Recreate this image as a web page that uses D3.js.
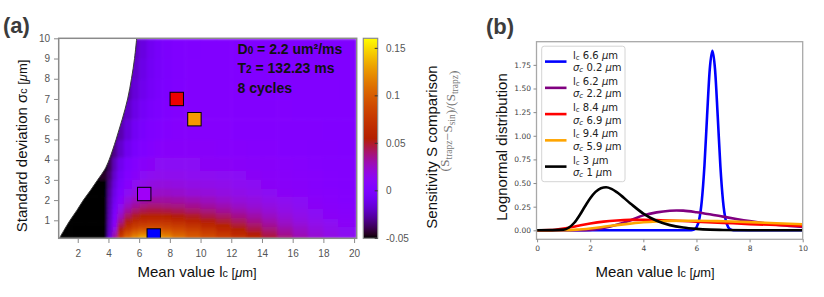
<!DOCTYPE html>
<html>
<head>
<meta charset="utf-8">
<script src="https://cdn.jsdelivr.net/npm/d3@7"></script>
<style>
  body { margin: 0; background: #fff; }
  svg { display: block; font-family: "Liberation Sans", Arial, sans-serif; }
</style>
</head>
<body>
<div id="chart"></div>
<script>
/* values */

// (a) heat map: columns = mean value lc, rows = standard deviation sigma
const lcGrid = [1.0, 2.0, 3.0, 3.75, 4.1, 4.4, 4.75, 5.25, 5.75, 6.25, 6.75, 7.25, 7.75, 8.5, 9.5, 10.5, 11.5, 12.5, 13.5, 14.5, 15.5, 16.5, 17.5, 18.5, 19.5];
const sigmaGrid = [0.2, 0.4, 0.6, 0.8, 1.0, 1.25, 1.5, 1.75, 2.0, 2.4, 2.8, 3.25, 3.75, 4.5, 5.5, 6.5, 7.5, 8.5, 9.5];
const sensRows = [
  [-0.06,-0.06,-0.06,-0.06,-0.015,0.034,0.078,0.104,0.12,0.131,0.133,0.128,0.121,0.11,0.099,0.09,0.081,0.071,0.059,0.048,0.038,0.03,0.023,0.018,0.014],
  [-0.06,-0.06,-0.06,-0.06,-0.017,0.026,0.066,0.091,0.105,0.113,0.115,0.112,0.107,0.099,0.091,0.082,0.073,0.063,0.053,0.043,0.034,0.027,0.021,0.017,0.013],
  [-0.06,-0.06,-0.06,-0.06,-0.019,0.017,0.053,0.075,0.088,0.095,0.097,0.096,0.093,0.087,0.08,0.072,0.064,0.055,0.046,0.038,0.031,0.025,0.019,0.015,0.012],
  [-0.06,-0.06,-0.06,-0.06,-0.02,0.01,0.043,0.063,0.074,0.08,0.082,0.082,0.08,0.076,0.07,0.063,0.056,0.048,0.041,0.034,0.027,0.022,0.017,0.014,0.011],
  [-0.06,-0.06,-0.06,-0.06,-0.021,0.006,0.034,0.052,0.062,0.067,0.069,0.069,0.068,0.064,0.06,0.054,0.048,0.042,0.036,0.03,0.024,0.019,0.015,0.012,0.01],
  [-0.06,-0.06,-0.06,-0.06,-0.022,0.002,0.026,0.042,0.051,0.055,0.057,0.057,0.056,0.053,0.05,0.045,0.041,0.036,0.031,0.026,0.021,0.017,0.013,0.011,0.009],
  [-0.06,-0.06,-0.06,-0.06,-0.023,-0.002,0.019,0.033,0.041,0.045,0.047,0.047,0.046,0.044,0.041,0.038,0.034,0.03,0.026,0.022,0.018,0.015,0.012,0.01,0.008],
  [-0.06,-0.06,-0.06,-0.06,-0.024,-0.005,0.013,0.026,0.033,0.037,0.039,0.039,0.038,0.037,0.035,0.032,0.029,0.025,0.022,0.019,0.016,0.013,0.011,0.009,0.007],
  [-0.06,-0.06,-0.06,-0.06,-0.025,-0.008,0.008,0.02,0.027,0.03,0.032,0.032,0.032,0.031,0.029,0.027,0.024,0.021,0.019,0.016,0.014,0.012,0.01,0.008,0.006],
  [-0.06,-0.06,-0.06,-0.06,-0.027,-0.011,0.003,0.013,0.019,0.022,0.024,0.025,0.025,0.024,0.022,0.021,0.019,0.017,0.015,0.013,0.011,0.01,0.008,0.007,0.006],
  [-0.06,-0.06,-0.06,-0.06,-0.03,-0.014,-0.002,0.008,0.014,0.017,0.019,0.02,0.02,0.019,0.018,0.017,0.016,0.014,0.013,0.011,0.01,0.009,0.007,0.006,0.005],
  [-0.06,-0.06,-0.06,-0.045,-0.034,-0.018,-0.006,0.004,0.009,0.012,0.014,0.015,0.015,0.015,0.014,0.014,0.013,0.012,0.011,0.01,0.009,0.008,0.007,0.006,0.005],
  [-0.06,-0.06,-0.06,-0.05,-0.038,-0.022,-0.01,0.0,0.006,0.009,0.011,0.012,0.012,0.012,0.012,0.011,0.011,0.01,0.009,0.009,0.008,0.007,0.006,0.005,0.005],
  [-0.06,-0.06,-0.06,-0.06,-0.042,-0.03,-0.019,-0.009,-0.002,0.003,0.006,0.008,0.009,0.009,0.009,0.009,0.008,0.008,0.007,0.007,0.006,0.006,0.005,0.005,0.004],
  [-0.06,-0.06,-0.06,-0.06,-0.05,-0.036,-0.025,-0.015,-0.007,-0.002,0.002,0.004,0.006,0.007,0.007,0.007,0.007,0.006,0.006,0.006,0.005,0.005,0.005,0.004,0.004],
  [-0.06,-0.06,-0.06,-0.06,-0.05,-0.045,-0.031,-0.02,-0.012,-0.006,-0.002,0.001,0.003,0.005,0.006,0.006,0.006,0.005,0.005,0.005,0.005,0.004,0.004,0.004,0.004],
  [-0.06,-0.06,-0.06,-0.06,-0.05,-0.045,-0.035,-0.025,-0.016,-0.01,-0.005,-0.002,0.001,0.003,0.005,0.005,0.005,0.005,0.005,0.004,0.004,0.004,0.004,0.004,0.003],
  [-0.06,-0.06,-0.06,-0.06,-0.05,-0.045,-0.04,-0.028,-0.019,-0.012,-0.007,-0.003,0.0,0.002,0.004,0.004,0.004,0.004,0.004,0.004,0.004,0.003,0.003,0.003,0.003],
  [-0.06,-0.06,-0.06,-0.06,-0.05,-0.045,-0.04,-0.03,-0.021,-0.014,-0.008,-0.004,-0.001,0.002,0.003,0.004,0.004,0.004,0.004,0.004,0.003,0.003,0.003,0.003,0.003]
];

// edge of the white (undefined) region
const edgeSigma = [0.11, 0.5, 1, 1.5, 2, 2.5, 3, 3.5, 4, 5, 6, 7, 8, 9, 10];
const edgeLc = [0.8, 1.1, 1.5, 1.95, 2.37, 2.85, 3.3, 3.75, 4.05, 4.5, 4.9, 5.25, 5.5, 5.7, 5.84];

// squares for the distributions shown in (b)
const markLc = [8.45, 9.6, 6.33, 6.95];
const markSigma = [7.0, 6.0, 2.3, 0.25];
const markColor = ["#ee0000", "#f59a00", "#a000f8", "#0000ff"];

const xTicksA = [2, 4, 6, 8, 10, 12, 14, 16, 18, 20];
const yTicksA = [1, 2, 3, 4, 5, 6, 7, 8, 9, 10];
const cbTicks = [-0.05, 0, 0.05, 0.1, 0.15];
const cbLabels = ["-0.05", "0", "0.05", "0.1", "0.15"];

// (b) lognormal curves
const blueX = [0, 5.8, 5.9, 6.0, 6.1, 6.2, 6.3, 6.4, 6.5, 6.6, 6.7, 6.8, 6.9, 7.0, 7.1, 7.2, 7.3, 7.4, 10];
const blueY = [0, 0, 0.007, 0.032, 0.11, 0.31, 0.68, 1.21, 1.70, 1.9, 1.70, 1.21, 0.68, 0.31, 0.11, 0.032, 0.007, 0, 0];
const purpleX = [0, 1, 1.5, 2, 2.5, 3, 3.5, 4, 4.5, 5, 5.25, 5.5, 6, 6.5, 7, 7.5, 8, 8.5, 9, 9.5, 10];
const purpleY = [0, 0, 0.001, 0.005, 0.024, 0.059, 0.104, 0.158, 0.19, 0.207, 0.21, 0.208, 0.192, 0.17, 0.145, 0.12, 0.097, 0.077, 0.06, 0.047, 0.036];
const redX = [0, 0.5, 1, 1.5, 2, 2.5, 3, 3.5, 4, 4.5, 5, 6, 7, 8, 9, 10];
const redY = [0, 0.002, 0.019, 0.046, 0.072, 0.092, 0.104, 0.11, 0.111, 0.108, 0.104, 0.092, 0.079, 0.066, 0.056, 0.046];
const orangeX = [0, 1, 1.5, 2, 2.5, 3, 3.5, 4, 4.5, 5, 5.5, 6, 7, 8, 9, 10];
const orangeY = [0, 0.001, 0.007, 0.02, 0.037, 0.055, 0.071, 0.085, 0.094, 0.1, 0.102, 0.102, 0.096, 0.087, 0.075, 0.064];
const blackX = [0, 1, 1.2, 1.4, 1.6, 1.8, 2, 2.2, 2.4, 2.6, 2.8, 3, 3.5, 4, 4.5, 5, 5.5, 6, 6.5, 7, 8, 10];
const blackY = [0, 0.007, 0.03, 0.08, 0.159, 0.252, 0.34, 0.407, 0.446, 0.455, 0.438, 0.404, 0.287, 0.177, 0.101, 0.055, 0.029, 0.015, 0.007, 0.004, 0.001, 0];

const legendLc = ["6.6", "6.2", "8.4", "9.4", "3"];
const legendSigma = ["0.2", "2.2", "6.9", "5.9", "1"];
const curveColor = ["blue", "purple", "red", "orange", "black"];

const xTicksB = [0, 2, 4, 6, 8, 10];
const yTicksB = [0, 0.25, 0.5, 0.75, 1.0, 1.25, 1.5, 1.75];

/* drawing */

const svg = d3.select("#chart").append("svg")
    .attr("width", 824)
    .attr("height", 297);
const defs = svg.append("defs");

// gnuplot-style palette (black - violet - red - yellow)
function gnuplotPal(t) {
    t = Math.max(0, Math.min(1, t));
    return d3.rgb(255 * Math.sqrt(t), 255 * t * t * t, 255 * Math.max(0, Math.sin(2 * Math.PI * t))).toString();
}

// ---------- panel (a) ----------
const A = {left: 58.7, right: 356.7, top: 38.3, bottom: 238.3};
const xA = d3.scaleLinear().domain([0.76, 20.17]).range([A.left, A.right]);
const yA = d3.scaleLinear().domain([0.11, 10]).range([A.bottom, A.top]);
const color = d3.scaleSequential(gnuplotPal).domain([-0.05, 0.1606]).clamp(true);

defs.append("clipPath").attr("id", "clip-a")
    .append("rect")
    .attr("x", A.left).attr("y", A.top)
    .attr("width", A.right - A.left).attr("height", A.bottom - A.top);

const soft = defs.append("filter").attr("id", "soft")
    .attr("x", 0).attr("y", 0).attr("width", 1).attr("height", 1);
soft.append("feGaussianBlur").attr("stdDeviation", 1.6).attr("edgeMode", "duplicate");

function edges(centers, lo, hi) {
    let e = [lo];
    for (let i = 1; i < centers.length; i++) e.push((centers[i - 1] + centers[i]) / 2);
    e.push(hi);
    return e;
}
const xEdges = edges(lcGrid, 0.76, 20.17);
const yEdges = edges(sigmaGrid, 0.11, 10);

let cells = [];
sensRows.forEach((row, i) => row.forEach((v, j) => cells.push({i: i, j: j, v: v})));

const plotA = svg.append("g").attr("clip-path", "url(#clip-a)");

plotA.append("g")
    .attr("filter", "url(#soft)")
    .selectAll("rect")
    .data(cells)
    .enter().append("rect")
    .attr("x", d => xA(xEdges[d.j]))
    .attr("y", d => yA(yEdges[d.i + 1]))
    .attr("width", d => xA(xEdges[d.j + 1]) - xA(xEdges[d.j]) + 0.6)
    .attr("height", d => yA(yEdges[d.i]) - yA(yEdges[d.i + 1]) + 0.6)
    .attr("fill", d => color(d.v));

// white region left of the boundary
const edgePts = edgeSigma.map((s, i) => [xA(edgeLc[i]), yA(s)]);
const edgeLine = d3.line().curve(d3.curveCatmullRom);
plotA.append("path")
    .attr("d", edgeLine(edgePts) + `L${xA(0.76) - 2},${yA(10) - 2}L${xA(0.76) - 2},${yA(0.11) + 2}Z`)
    .attr("fill", "white");
plotA.append("path")
    .attr("d", edgeLine(edgePts))
    .attr("fill", "none")
    .attr("stroke", "#3a3a3a")
    .attr("stroke-width", 1);

// marker squares
plotA.selectAll(".mark")
    .data(markLc)
    .enter().append("rect")
    .attr("class", "mark")
    .attr("x", (d, i) => xA(d) - 6.7)
    .attr("y", (d, i) => yA(markSigma[i]) - 6.7)
    .attr("width", 13.4)
    .attr("height", 13.4)
    .attr("fill", (d, i) => markColor[i])
    .attr("stroke", "black")
    .attr("stroke-width", 1);

// frame
svg.append("rect")
    .attr("x", A.left).attr("y", A.top)
    .attr("width", A.right - A.left).attr("height", A.bottom - A.top)
    .attr("fill", "none").attr("stroke", "#8a8a8a").attr("stroke-width", 1.5);

function styleAxis(g, size, fill) {
    g.select(".domain").remove();
    g.selectAll(".tick line").attr("stroke", "#8a8a8a");
    g.selectAll(".tick text").attr("fill", fill).style("font-size", size + "px");
}

svg.append("g")
    .attr("transform", `translate(0,${A.bottom + 0.7})`)
    .call(d3.axisBottom(xA).tickValues(xTicksA).tickSize(4).tickPadding(7))
    .call(g => styleAxis(g, 10, "#555"))
    .selectAll("text").style("font-family", "Liberation Sans, Arial, sans-serif");

svg.append("g")
    .attr("transform", `translate(${A.left - 0.7},0)`)
    .call(d3.axisLeft(yA).tickValues(yTicksA).tickSize(4).tickPadding(4))
    .call(g => styleAxis(g, 10, "#555"))
    .selectAll("text").style("font-family", "Liberation Sans, Arial, sans-serif");

// annotation text
const note = svg.append("g").attr("font-weight", "bold").attr("font-size", 14).attr("fill", "#111");
let t1 = note.append("text").attr("x", 237.5).attr("y", 53.5);
t1.append("tspan").text("D");
t1.append("tspan").attr("font-size", 10).text("0");
t1.append("tspan").text(" = 2.2 um²/ms");
let t2 = note.append("text").attr("x", 237.5).attr("y", 73);
t2.append("tspan").text("T");
t2.append("tspan").attr("font-size", 10).text("2");
t2.append("tspan").text(" = 132.23 ms");
note.append("text").attr("x", 237.5).attr("y", 92.5).text("8 cycles");

// axis titles with small "c" and [μm]
function unitLabel(sel, main, sym, size) {
    sel.append("tspan").text(main);
    sel.append("tspan").attr("font-size", size * 0.72).text(sym);
    sel.append("tspan").attr("font-size", size * 0.86).text(" [");
    sel.append("tspan").attr("font-size", size * 0.86).attr("font-style", "italic").text("μ");
    sel.append("tspan").attr("font-size", size * 0.86).text("m]");
}

let xtA = svg.append("text")
    .attr("x", 197).attr("y", 277)
    .attr("text-anchor", "middle").attr("font-size", 15).attr("fill", "#111");
unitLabel(xtA, "Mean value l", "c", 15);

let ytA = svg.append("text")
    .attr("transform", "translate(22,146) rotate(-90)")
    .attr("dy", "0.35em")
    .attr("text-anchor", "middle").attr("font-size", 15).attr("fill", "#111");
unitLabel(ytA, "Standard deviation σ", "c", 15);

// colour bar
const C = {left: 363.3, width: 14.4};
const yC = d3.scaleLinear().domain([-0.05, 0.1606]).range([A.bottom, A.top]);
const grad = defs.append("linearGradient").attr("id", "cbar")
    .attr("x1", 0).attr("y1", 1).attr("x2", 0).attr("y2", 0);
grad.selectAll("stop")
    .data(d3.range(0, 1.0001, 0.02))
    .enter().append("stop")
    .attr("offset", d => d)
    .attr("stop-color", d => gnuplotPal(d));

svg.append("rect")
    .attr("x", C.left).attr("y", A.top)
    .attr("width", C.width).attr("height", A.bottom - A.top)
    .attr("fill", "url(#cbar)")
    .attr("stroke", "#8a8a8a").attr("stroke-width", 1.2);

svg.selectAll(".cbtick")
    .data(cbTicks)
    .enter().append("line")
    .attr("class", "cbtick")
    .attr("x1", C.left + C.width - 3).attr("x2", C.left + C.width)
    .attr("y1", d => yC(d)).attr("y2", d => yC(d))
    .attr("stroke", "#333");

svg.selectAll(".cblab")
    .data(cbTicks)
    .enter().append("text")
    .attr("class", "cblab")
    .attr("x", 386)
    .attr("y", d => yC(d))
    .attr("dy", "0.35em")
    .attr("font-size", 10)
    .attr("fill", "#555")
    .text((d, i) => cbLabels[i]);

svg.append("text")
    .attr("transform", "translate(432,147) rotate(-90)")
    .attr("dy", "0.35em")
    .attr("text-anchor", "middle")
    .attr("font-size", 15)
    .attr("fill", "#111")
    .text("Sensitivity S comparison");

let cbSub = svg.append("text")
    .attr("transform", "translate(449,121) rotate(-90)")
    .attr("dy", "0.35em")
    .attr("text-anchor", "middle")
    .attr("font-family", "Liberation Serif, Times New Roman, serif")
    .attr("font-size", 13.5)
    .attr("fill", "#777");
[["(S", 0], ["trapz", 1], ["−S", 0], ["sin", 1], [")/(S", 0], ["trapz", 1], [")", 0]].forEach(p => {
    cbSub.append("tspan").attr("font-size", p[1] ? 9.5 : 13.5).attr("dy", p[1] ? 3 : 0).text(p[0]);
    if (p[1]) cbSub.append("tspan").attr("dy", -3).text("");
});

// panel letters
svg.append("text").attr("x", 3).attr("y", 33)
    .attr("font-size", 22).attr("font-weight", "bold").attr("fill", "#3c3c3c").text("(a)");
svg.append("text").attr("x", 486).attr("y", 34)
    .attr("font-size", 22).attr("font-weight", "bold").attr("fill", "#3c3c3c").text("(b)");

// ---------- panel (b) ----------
const B = {left: 536.5, right: 802.7, top: 41.7, bottom: 239.3};
const xB = d3.scaleLinear().domain([0, 10]).range([537.1, B.right]);
const yB = d3.scaleLinear().domain([-0.095, 1.995]).range([B.bottom, B.top]);

defs.append("clipPath").attr("id", "clip-b")
    .append("rect")
    .attr("x", B.left).attr("y", B.top)
    .attr("width", B.right - B.left).attr("height", B.bottom - B.top);

const line = d3.line()
    .x(d => xB(d[0]))
    .y(d => yB(d[1]))
    .curve(d3.curveMonotoneX);

const seriesX = [blueX, purpleX, redX, orangeX, blackX];
const seriesY = [blueY, purpleY, redY, orangeY, blackY];

svg.append("g").attr("clip-path", "url(#clip-b)")
    .selectAll("path")
    .data(seriesX)
    .enter().append("path")
    .attr("d", (xs, k) => line(xs.map((x, i) => [x, seriesY[k][i]])))
    .attr("fill", "none")
    .attr("stroke", (d, k) => curveColor[k])
    .attr("stroke-width", 2.6)
    .attr("stroke-linejoin", "round");

svg.append("rect")
    .attr("x", B.left).attr("y", B.top)
    .attr("width", B.right - B.left).attr("height", B.bottom - B.top)
    .attr("fill", "none").attr("stroke", "#a8a8a8").attr("stroke-width", 1.3);

svg.append("g")
    .attr("transform", `translate(0,${B.bottom})`)
    .call(d3.axisBottom(xB).tickValues(xTicksB).tickSize(3).tickPadding(3).tickFormat(d3.format("d")))
    .call(g => styleAxis(g, 7.5, "#444"))
    .selectAll("text").style("font-family", "DejaVu Sans, sans-serif");

svg.append("g")
    .attr("transform", `translate(${B.left},0)`)
    .call(d3.axisLeft(yB).tickValues(yTicksB).tickSize(3).tickPadding(2.5).tickFormat(d3.format(".2f")))
    .call(g => styleAxis(g, 7.5, "#444"))
    .selectAll("text").style("font-family", "DejaVu Sans, sans-serif");

let xtB = svg.append("text")
    .attr("x", 655).attr("y", 277)
    .attr("text-anchor", "middle").attr("font-size", 15).attr("fill", "#111");
unitLabel(xtB, "Mean value l", "c", 15);

svg.append("text")
    .attr("transform", "translate(502,147) rotate(-90)")
    .attr("dy", "0.35em")
    .attr("text-anchor", "middle")
    .attr("font-size", 15)
    .attr("fill", "#111")
    .text("Lognormal distribution");

// legend
const leg = svg.append("g").attr("font-family", "DejaVu Sans, sans-serif").attr("font-size", 10);
leg.append("rect")
    .attr("x", 541.7).attr("y", 46.2)
    .attr("width", 83.3).attr("height", 135.5)
    .attr("rx", 2.5)
    .attr("fill", "white").attr("fill-opacity", 0.85)
    .attr("stroke", "#d4d4d4");

legendLc.forEach((lc, i) => {
    const y0 = 61.6 + i * 26.25;
    leg.append("line")
        .attr("x1", 545).attr("x2", 566.5)
        .attr("y1", y0).attr("y2", y0)
        .attr("stroke", curveColor[i]).attr("stroke-width", 2.6);
    let a = leg.append("text").attr("x", 573).attr("y", y0 - 3).attr("fill", "#222");
    a.append("tspan").text("l");
    a.append("tspan").attr("font-size", 7).attr("dy", 1).text("c");
    a.append("tspan").attr("dy", -1).text(" " + lc + " ");
    a.append("tspan").attr("font-style", "italic").text("μ");
    a.append("tspan").text("m");
    let b = leg.append("text").attr("x", 573).attr("y", y0 + 9.5).attr("fill", "#222");
    b.append("tspan").attr("font-style", "italic").text("σ");
    b.append("tspan").attr("font-size", 7).attr("dy", 1).attr("font-style", "italic").text("c");
    b.append("tspan").attr("dy", -1).text(" " + legendSigma[i] + " ");
    b.append("tspan").attr("font-style", "italic").text("μ");
    b.append("tspan").text("m");
});
</script>
</body>
</html>
